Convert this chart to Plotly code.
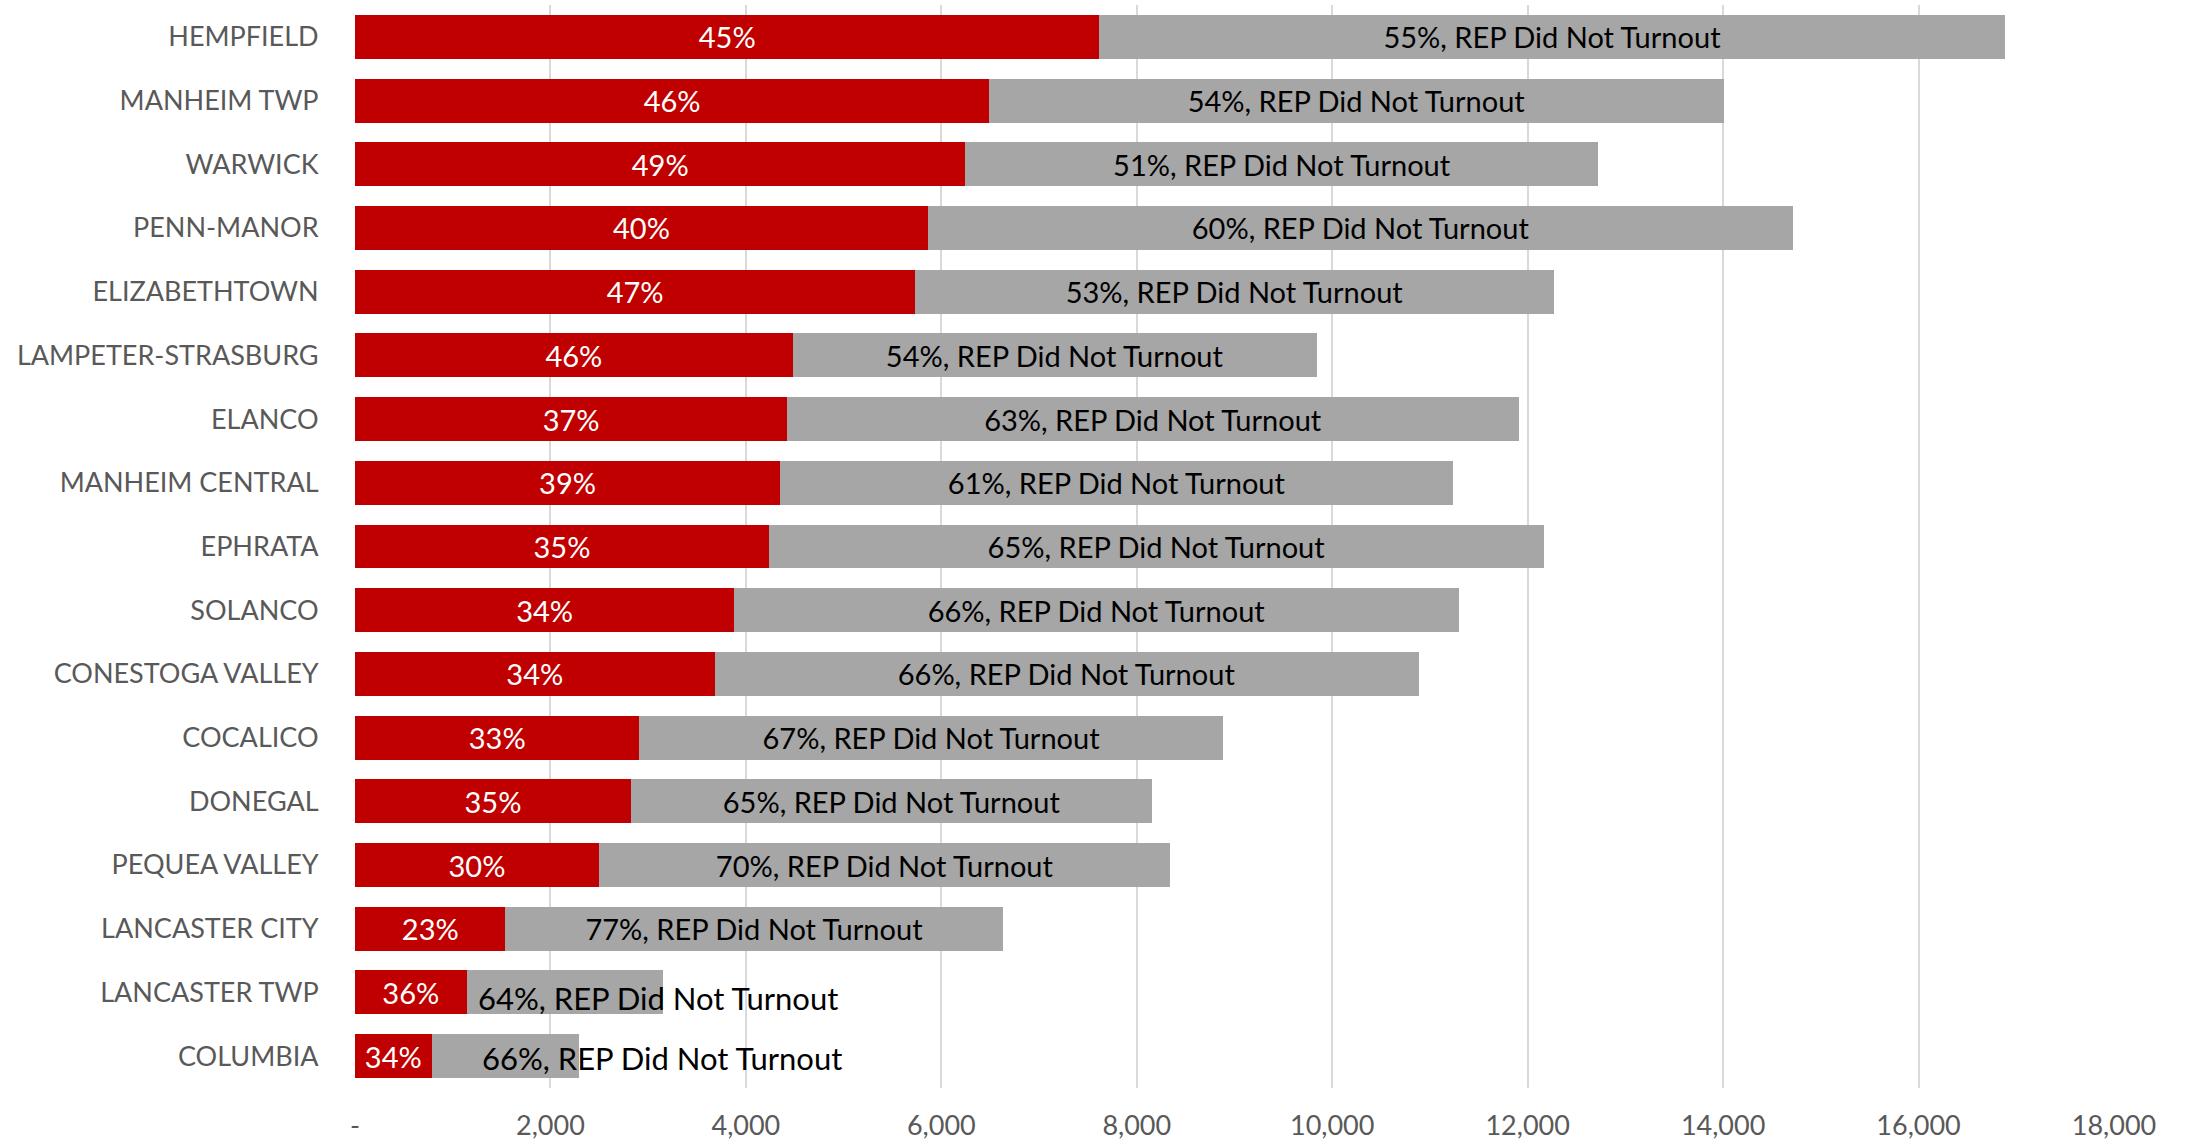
import plotly.graph_objects as go

districts = ["HEMPFIELD", "MANHEIM TWP", "WARWICK", "PENN-MANOR", "ELIZABETHTOWN",
             "LAMPETER-STRASBURG", "ELANCO", "MANHEIM CENTRAL", "EPHRATA", "SOLANCO",
             "CONESTOGA VALLEY", "COCALICO", "DONEGAL", "PEQUEA VALLEY", "LANCASTER CITY",
             "LANCASTER TWP", "COLUMBIA"]
turned_out = [7617, 6490, 6247, 5862, 5734, 4479, 4422, 4350, 4236, 3880,
              3680, 2910, 2824, 2496, 1540, 1141, 784]
did_not_turnout = [9270, 7516, 6476, 8857, 6532, 5362, 7488, 6889, 7930, 7416,
                   7203, 5976, 5334, 5848, 5092, 2011, 1512]
pct_turned_out = [45, 46, 49, 40, 47, 46, 37, 39, 35, 34, 34, 33, 35, 30, 23, 36, 34]
pct_not_turnout = [55, 54, 51, 60, 53, 54, 63, 61, 65, 66, 66, 67, 65, 70, 77, 64, 66]
tick_vals = [0, 2000, 4000, 6000, 8000, 10000, 12000, 14000, 16000, 18000]
tick_text = ["-", "2,000", "4,000", "6,000", "8,000", "10,000", "12,000", "14,000", "16,000", "18,000"]

FONT = "Lato"
FS = 27
BAR_FS = 29
RED = "#C00000"
GREY = "#A6A6A6"

# labels that do not fit inside their grey bar are placed as free annotations
# (pixel nudges relative to the bar end)
overflow_shift = {"LANCASTER TWP": (-5, -6), "COLUMBIA": (83, -2)}

grey_text = []
for d, p in zip(districts, pct_not_turnout):
    grey_text.append("" if d in overflow_shift else f"{p}%, REP Did Not Turnout")

fig = go.Figure()
fig.add_trace(go.Bar(
    y=districts, x=turned_out, orientation="h", marker=dict(color=RED, line=dict(width=0)),
    text=[f"{p}%" for p in pct_turned_out], textposition="inside", insidetextanchor="middle",
    textfont=dict(family=FONT, size=BAR_FS, color="white"), constraintext="none",
    name="REP Turned Out", hoverinfo="x+y"))
fig.add_trace(go.Bar(
    y=districts, x=did_not_turnout, orientation="h", marker=dict(color=GREY, line=dict(width=0)),
    text=grey_text, textposition="inside", insidetextanchor="middle",
    textfont=dict(family=FONT, size=BAR_FS, color="black"), constraintext="none",
    name="REP Did Not Turnout", hoverinfo="x+y"))

for d, r, g, p in zip(districts, turned_out, did_not_turnout, pct_not_turnout):
    if d in overflow_shift:
        dx, dy = overflow_shift[d]
        fig.add_annotation(x=r + g, y=d, text=f"{p}%, REP Did Not Turnout",
                           xanchor="center", yanchor="middle", showarrow=False,
                           xshift=dx, yshift=dy,
                           font=dict(family=FONT, size=31, color="black"))

fig.update_layout(
    barmode="stack", bargap=0.31, showlegend=False,
    width=2185, height=1143,
    margin=dict(l=355, r=71, t=5, b=55, autoexpand=False),
    plot_bgcolor="white", paper_bgcolor="white",
    font=dict(family=FONT, size=FS, color="#595959"),
    uniformtext=dict(minsize=BAR_FS, mode="show"),
    xaxis=dict(range=[0, 18000], tickvals=tick_vals, ticktext=tick_text,
               showgrid=True, gridcolor="#D9D9D9", gridwidth=2, zeroline=False,
               showline=False, ticks="outside", ticklen=14, tickcolor="rgba(0,0,0,0)",
               tickfont=dict(family=FONT, size=FS, color="#595959"), fixedrange=True,
               automargin=False),
    yaxis=dict(autorange="reversed", showgrid=False, showline=False, zeroline=False,
               ticks="outside", ticklen=30, tickcolor="rgba(0,0,0,0)",
               tickfont=dict(family=FONT, size=FS, color="#595959"), automargin=False),
)

fig.write_html("out.html", config={"displayModeBar": False},
               post_script="document.body.style.margin='0';document.body.style.overflow='hidden';")
